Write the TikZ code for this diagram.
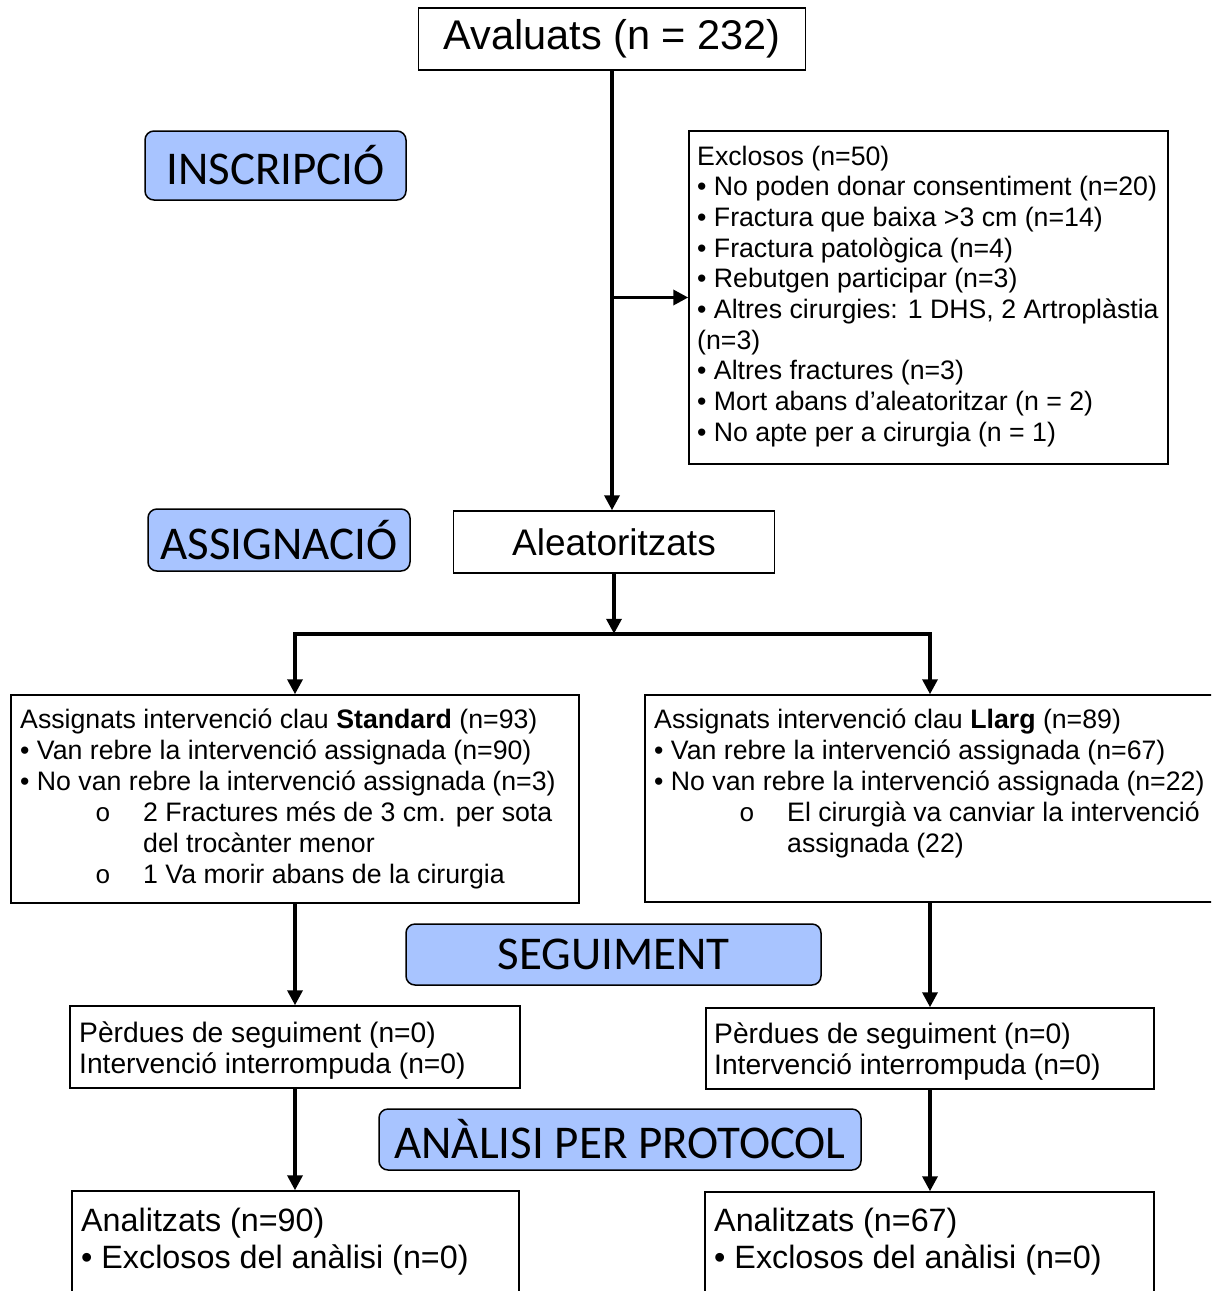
\documentclass[tikz,border=0pt]{standalone}
\usepackage{fontspec}
\setmainfont{Liberation Sans}
\newfontfamily\labelfont{Carlito}
\newfontfamily\courfont{Liberation Mono}
\usetikzlibrary{arrows.meta}
\definecolor{phaseblue}{RGB}{168,196,255}
\newcommand{\fs}[2]{\fontsize{#1pt}{#2pt}\selectfont}
\begin{document}
\begin{tikzpicture}[x=1pt,y=-1pt,
  frame/.style={draw=black, line width=1.5pt, rectangle, inner sep=0pt},
  phase/.style={draw=black, line width=1.5pt, fill=phaseblue, rounded corners=9pt, inner sep=0pt, font=\labelfont\fs{47}{56}},
  txt/.style={anchor=base west, inner sep=0pt, font=\fs{26.7}{31}},
  txtp/.style={anchor=base west, inner sep=0pt, font=\fs{28.2}{32}},
  txta/.style={anchor=base west, inner sep=0pt, font=\fs{32.3}{37}},
  subb/.style={anchor=base west, inner sep=0pt, font=\courfont\fs{26}{31}},
  arr/.style={line width=3.5pt, -{Triangle[length=15pt,width=15pt]}},
]
\useasboundingbox (0,0) rectangle (1211,1291);
\clip (0,0) rectangle (1211,1291);

% frames
\node[frame, minimum width=387pt, minimum height=62pt, font=\fs{41.5}{48}] (aval) at (612,39) {Avaluats (n = 232)};
\node[frame, minimum width=479pt, minimum height=333pt] (excl) at (928.5,297.5) {};
\node[frame, minimum width=321pt, minimum height=62pt, font=\fs{37}{42}] (alea) at (614,542) {Aleatoritzats};
\node[frame, minimum width=568pt, minimum height=208pt] (std) at (295,799) {};
\node[frame, minimum width=570pt, minimum height=207pt] (llarg) at (930,798.5) {};
\node[frame, minimum width=450pt, minimum height=82pt] (perd1) at (295,1047) {};
\node[frame, minimum width=448pt, minimum height=81pt] (perd2) at (930,1048.5) {};
\node[frame, minimum width=447pt, minimum height=140pt] (an1) at (295.5,1261) {};
\node[frame, minimum width=449pt, minimum height=140pt] (an2) at (929.5,1262) {};

% phase labels
\node[phase, minimum width=261pt, minimum height=69pt] (insc) at (275.5,165.5) {INSCRIPCIÓ};
\node[phase, minimum width=262pt, minimum height=62pt] (assig) at (279,540) {ASSIGNACIÓ};
\node[phase, minimum width=415pt, minimum height=61pt] (segu) at (613.5,954.5) {SEGUIMENT};
\node[phase, minimum width=482pt, minimum height=61pt] (anal) at (620,1139.5) {ANÀLISI PER PROTOCOL};

% excluded list
\foreach \t [count=\i] in {{Exclosos (n=50)},
  {• No poden donar consentiment (n=20)},
  {• Fractura que baixa >3 cm (n=14)},
  {• Fractura patològica (n=4)},
  {• Rebutgen participar (n=3)},
  {• Altres cirurgies: 1 DHS, 2 Artroplàstia},
  {(n=3)},
  {• Altres fractures (n=3)},
  {• Mort abans d’aleatoritzar (n = 2)},
  {• No apte per a cirurgia (n = 1)}}
  \node[txt] (ex\i) at (697,{165+30.7*(\i-1)}) {\t};

% standard
\node[txt] (s1) at (20,728) {Assignats intervenció clau \textbf{Standard} (n=93)};
\node[txt] (s2) at (20,759) {• Van rebre la intervenció assignada (n=90)};
\node[txt] (s3) at (20,790) {• No van rebre la intervenció assignada (n=3)};
\node[subb] (s4b) at (95,821) {o};
\node[txt] (s4) at (143,821) {2 Fractures més de 3 cm. per sota};
\node[txt] (s5) at (143,852) {del trocànter menor};
\node[subb] (s6b) at (95,883) {o};
\node[txt] (s6) at (143,883) {1 Va morir abans de la cirurgia};

% llarg
\node[txt] (l1) at (654,728) {Assignats intervenció clau \textbf{Llarg} (n=89)};
\node[txt] (l2) at (654,759) {• Van rebre la intervenció assignada (n=67)};
\node[txt] (l3) at (654,790) {• No van rebre la intervenció assignada (n=22)};
\node[subb] (l4b) at (739,821) {o};
\node[txt] (l4) at (787,821) {El cirurgià va canviar la intervenció};
\node[txt] (l5) at (787,852) {assignada (22)};

% follow-up
\node[txtp] (p1a) at (79,1042) {Pèrdues de seguiment (n=0)};
\node[txtp] (p1b) at (79,1073) {Intervenció interrompuda (n=0)};
\node[txtp] (p2a) at (714,1043) {Pèrdues de seguiment (n=0)};
\node[txtp] (p2b) at (714,1074) {Intervenció interrompuda (n=0)};

% analysed
\node[txta] (a1a) at (81,1231) {Analitzats (n=90)};
\node[txta] (a1b) at (81,1268) {• Exclosos del anàlisi (n=0)};
\node[txta] (a2a) at (714,1231) {Analitzats (n=67)};
\node[txta] (a2b) at (714,1268) {• Exclosos del anàlisi (n=0)};

% connectors
\draw[arr] (aval.south) -- (aval.south |- alea.north);
\draw[arr] (aval.south |- excl.west) -- (excl.west);
\path (alea.south) ++(0,60) coordinate (split);
\draw[arr] (alea.south) -- (split);
\draw[arr] (split) -| (std.north);
\draw[arr] (split) -| (llarg.north);
\draw[arr] (std.south) -- (perd1.north);
\draw[arr] (llarg.south) -- (perd2.north);
\draw[arr] (perd1.south) -- (perd1.south |- an1.north);
\draw[arr] (perd2.south) -- (perd2.south |- an2.north);
\end{tikzpicture}
\end{document}
